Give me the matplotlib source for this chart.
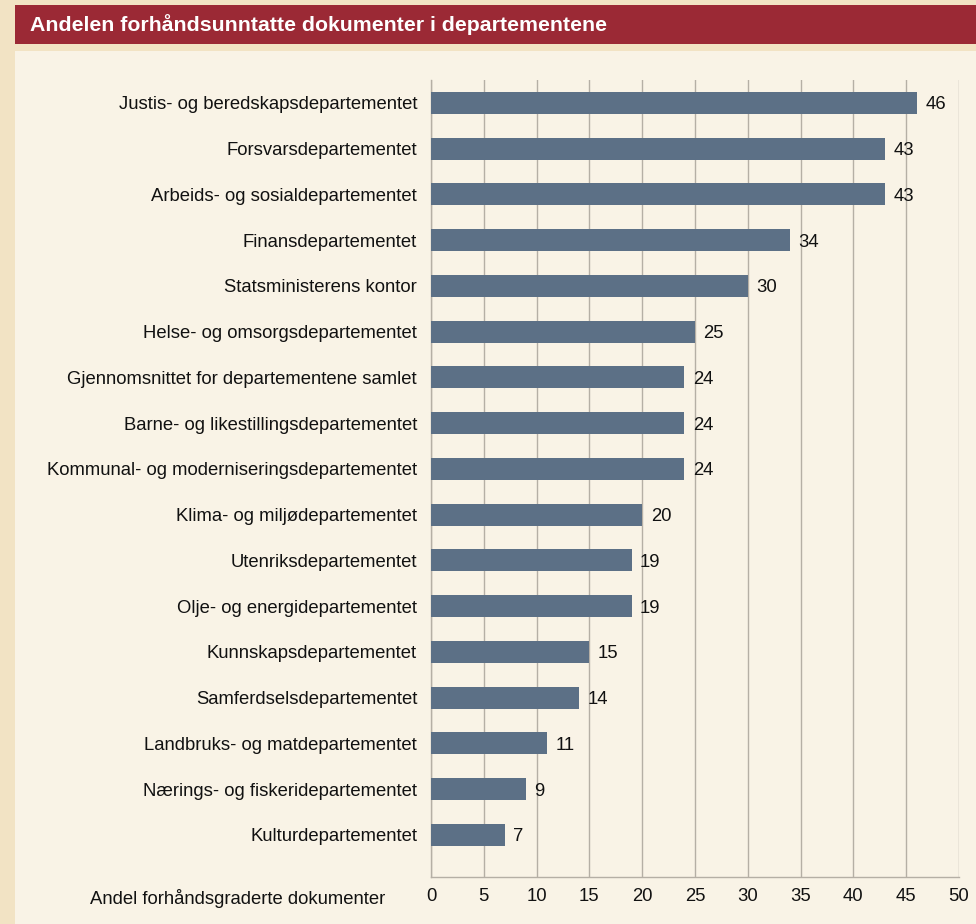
import matplotlib.pyplot as plt
from matplotlib.patches import Rectangle

plt.rcParams['font.family'] = ['Liberation Sans', 'DejaVu Sans']

# Data (percent)
departments = [
    "Justis- og beredskapsdepartementet",
    "Forsvarsdepartementet",
    "Arbeids- og sosialdepartementet",
    "Finansdepartementet",
    "Statsministerens kontor",
    "Helse- og omsorgsdepartementet",
    "Gjennomsnittet for departementene samlet",
    "Barne- og likestillingsdepartementet",
    "Kommunal- og moderniseringsdepartementet",
    "Klima- og miljødepartementet",
    "Utenriksdepartementet",
    "Olje- og energidepartementet",
    "Kunnskapsdepartementet",
    "Samferdselsdepartementet",
    "Landbruks- og matdepartementet",
    "Nærings- og fiskeridepartementet",
    "Kulturdepartementet",
]
shares = [46, 43, 43, 34, 30, 25, 24, 24, 24, 20, 19, 19, 15, 14, 11, 9, 7]
xticks = [0, 5, 10, 15, 20, 25, 30, 35, 40, 45, 50]

title = "Andelen forhåndsunntatte dokumenter i departementene"
xlabel = "Andel forhåndsgraderte dokumenter"

outer_bg = '#F2E3C4'
panel_bg = '#F9F3E6'
title_bg = '#9B2935'
bar_color = '#5C7086'
grid_color = '#B5AFA5'
fs = 13.3

W, H = 976, 924
fig = plt.figure(figsize=(W / 100, H / 100), dpi=100)
fig.patch.set_facecolor(outer_bg)

# cream panel and red title band, in pixel-fraction coords
fig.patches.append(Rectangle((15 / W, 0), 1 - 15 / W, 1 - 51 / H, transform=fig.transFigure,
                             facecolor=panel_bg, edgecolor='none', zorder=-2))
fig.patches.append(Rectangle((15 / W, 1 - 44 / H), 1 - 15 / W, 39 / H, transform=fig.transFigure,
                             facecolor=title_bg, edgecolor='none', zorder=-2))
fig.text(30 / W, 1 - 25 / H, title, color='white', fontsize=15.3, fontweight='bold',
         ha='left', va='center')

ax = fig.add_axes([431 / W, 1 - 877 / H, 528 / W, 797 / H])
ax.set_facecolor('none')

ypos = list(range(len(departments)))
ax.barh(ypos, shares, height=0.48, color=bar_color, zorder=3)
for y, v in zip(ypos, shares):
    ax.text(v + 0.8, y, str(v), va='center_baseline', ha='left', fontsize=fs,
            color='#111111', zorder=4)

ax.set_xlim(0, 50)
ax.set_ylim(16.92, -0.5)
ax.set_xticks(xticks)
ax.set_xticklabels([str(t) for t in xticks], fontsize=fs)
ax.set_yticks(ypos)
ax.set_yticklabels(departments, fontsize=fs, va='center_baseline')
ax.tick_params(axis='both', length=0, colors='#111111')
ax.tick_params(axis='x', pad=8)
ax.tick_params(axis='y', pad=10)

ax.grid(axis='x', color=grid_color, linewidth=1.0, zorder=1)
ax.set_axisbelow(True)
for side in ['top', 'right']:
    ax.spines[side].set_visible(False)
for side in ['left', 'bottom']:
    ax.spines[side].set_color(grid_color)
    ax.spines[side].set_linewidth(1.0)

fig.text(385 / W, 1 - 896 / H, xlabel, fontsize=fs, ha='right', va='center_baseline',
         color='#111111')

fig.savefig('out.png', dpi=100, facecolor=fig.get_facecolor())
